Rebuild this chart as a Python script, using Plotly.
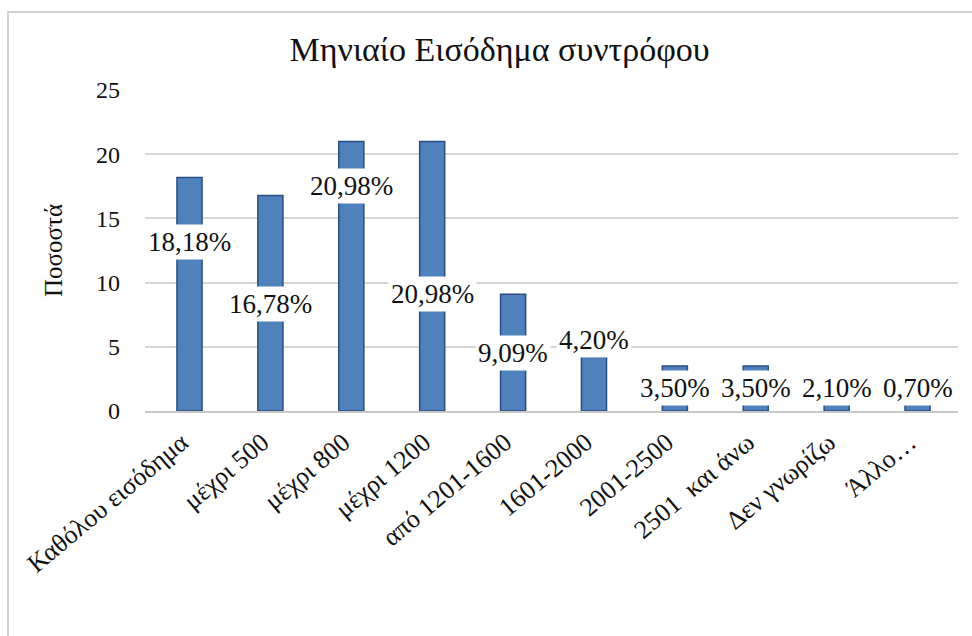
import plotly.graph_objects as go

categories = ["Καθόλου εισόδημα", "μέχρι 500", "μέχρι 800", "μέχρι 1200", "από 1201-1600",
              "1601-2000", "2001-2500", "2501  και άνω", "Δεν γνωρίζω", "Άλλο…"]
values = [18.18, 16.78, 20.98, 20.98, 9.09, 4.20, 3.50, 3.50, 2.10, 0.70]
y_ticks = [0, 5, 10, 15, 20, 25]
# label anchor heights (layout positions of the data labels, as placed in the original)
label_pos = [13.2, 8.3, 17.5, 9.1, 4.5, 5.5, 1.8, 1.8, 1.8, 1.8]

FONT = "'Liberation Serif', 'Times New Roman', Times, 'DejaVu Serif', serif"

fig = go.Figure()
fig.add_trace(go.Bar(
    x=categories, y=values,
    marker=dict(color="#4f81bd", line=dict(color="#2a4d80", width=1.5)),
    hoverinfo="skip",
))

for c, v, p in zip(categories, values, label_pos):
    fig.add_annotation(
        x=c, y=p, xref="x", yref="y",
        text=f"{v:.2f}%".replace(".", ","),
        showarrow=False, bgcolor="white", borderpad=2,
        font=dict(family=FONT, size=27, color="#111111"),
    )

# outer chart border
fig.add_shape(type="rect", xref="paper", yref="paper",
              x0=-0.1685, x1=1.05, y0=-0.9, y1=1.243,
              line=dict(color="#d0d0d0", width=2), fillcolor="rgba(0,0,0,0)", layer="below")

fig.update_layout(
    width=972, height=636,
    margin=dict(l=145, r=14, t=90, b=225, autoexpand=False),
    paper_bgcolor="white", plot_bgcolor="white",
    bargap=0.69,
    showlegend=False,
    title=dict(text="Μηνιαίο Εισόδημα συντρόφου", x=0.514, xanchor="center",
               y=0.923, yanchor="middle", yref="container",
               font=dict(family=FONT, size=34, color="#111111")),
    font=dict(family=FONT, color="#111111"),
)
fig.update_xaxes(
    tickangle=-40, tickfont=dict(family=FONT, size=26, color="#111111"),
    showgrid=False, showline=True, linecolor="#c8c8c8", linewidth=2,
    ticks="", ticklabelstandoff=4, ticklabelshift=-8,
    fixedrange=True, automargin=False,
)
fig.update_yaxes(
    range=[0, 25], tickvals=y_ticks,
    tickfont=dict(family=FONT, size=24, color="#111111"),
    showgrid=True, gridcolor="#d6d6d6", gridwidth=2,
    zeroline=False, showline=False, ticks="",
    ticklabelstandoff=24,
    title=dict(text="Ποσοστά", font=dict(family=FONT, size=25, color="#111111"), standoff=26),
    fixedrange=True, automargin=False,
)

fig.write_html("out.html", config={"displayModeBar": False},
               post_script="document.body.style.margin='0';")
